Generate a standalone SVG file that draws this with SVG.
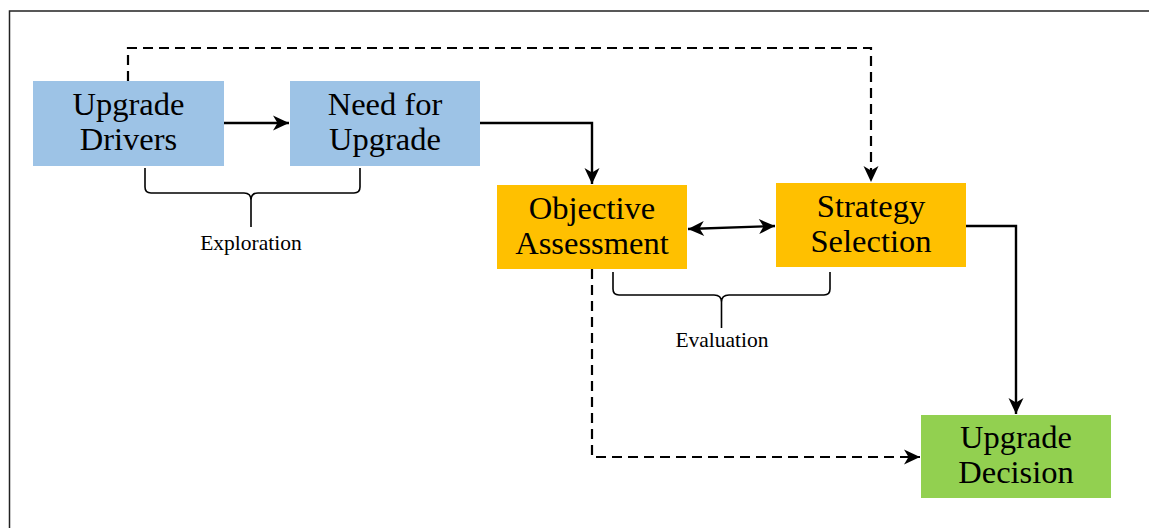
<svg xmlns="http://www.w3.org/2000/svg" width="1149" height="528" viewBox="0 0 1149 528">
  <style>
    .box-text { font-family: "Liberation Serif", "Times New Roman", serif; font-size: 32.5px; fill: #000; text-anchor: middle; }
    .label { font-family: "Liberation Serif", "Times New Roman", serif; font-size: 21.5px; fill: #000; text-anchor: middle; }
    .solid { fill: none; stroke: #000; stroke-width: 2.4; }
    .dashed { fill: none; stroke: #000; stroke-width: 2.2; stroke-dasharray: 10 6; }
    .brace { fill: none; stroke: #000; stroke-width: 1.6; }
  </style>
  <defs>
    <marker id="arrow" viewBox="0 0 18 18" refX="17" refY="9" markerWidth="18" markerHeight="18" markerUnits="userSpaceOnUse" orient="auto-start-reverse">
      <path d="M17,9 L1,1.5 L5.5,9 L1,16.5 Z" fill="#000"/>
    </marker>
  </defs>

  <rect width="1149" height="528" fill="#fff"/>
  <!-- frame -->
  <path d="M9.5,528 L9.5,11 L1149,11" fill="none" stroke="#222" stroke-width="1.5"/>

  <g id="connectors">
    <line class="solid" x1="224" y1="123" x2="289" y2="123" marker-end="url(#arrow)"/>
    <polyline class="solid" points="480,123 592,123 592,184" marker-end="url(#arrow)"/>
    <line class="solid" x1="688" y1="229" x2="775" y2="226" marker-start="url(#arrow)" marker-end="url(#arrow)"/>
    <polyline class="solid" points="966,226 1016,226 1016,414" marker-end="url(#arrow)"/>
    <polyline class="dashed" points="128,81 128,48 871,48 871,182" marker-end="url(#arrow)"/>
    <polyline class="dashed" points="592,269 592,457 920,457" marker-end="url(#arrow)"/>
  </g>

  <g id="upgrade-drivers">
    <rect x="33" y="81" width="191" height="85" fill="#9DC3E6"/>
    <text class="box-text" x="128.5" y="115">Upgrade</text>
    <text class="box-text" x="128.5" y="150">Drivers</text>
  </g>

  <g id="need-for-upgrade">
    <rect x="290" y="81" width="190" height="85" fill="#9DC3E6"/>
    <text class="box-text" x="385" y="115">Need for</text>
    <text class="box-text" x="385" y="150">Upgrade</text>
  </g>

  <g id="objective-assessment">
    <rect x="497" y="185" width="190" height="84" fill="#FFC000"/>
    <text class="box-text" x="592" y="218.5">Objective</text>
    <text class="box-text" x="592" y="253.5">Assessment</text>
  </g>

  <g id="strategy-selection">
    <rect x="776" y="183" width="190" height="84" fill="#FFC000"/>
    <text class="box-text" x="871" y="216.5">Strategy</text>
    <text class="box-text" x="871" y="251.5">Selection</text>
  </g>

  <g id="upgrade-decision">
    <rect x="921" y="415" width="190" height="83" fill="#92D050"/>
    <text class="box-text" x="1016" y="448">Upgrade</text>
    <text class="box-text" x="1016" y="483">Decision</text>
  </g>

  <g id="exploration">
    <path class="brace" d="M145,168 L145,187 Q145,193 151,193 L244,193 Q251,193 251,200 L251,227 M251,227 L251,200 Q251,193 258,193 L354,193 Q360,193 360,187 L360,168"/>
    <text class="label" x="251" y="250">Exploration</text>
  </g>

  <g id="evaluation">
    <path class="brace" d="M613,272 L613,289 Q613,295 619,295 L714,295 Q721.5,295 721.5,302 L721.5,328 M721.5,328 L721.5,302 Q721.5,295 729,295 L824,295 Q830,295 830,289 L830,272"/>
    <text class="label" x="722" y="347">Evaluation</text>
  </g>
</svg>
